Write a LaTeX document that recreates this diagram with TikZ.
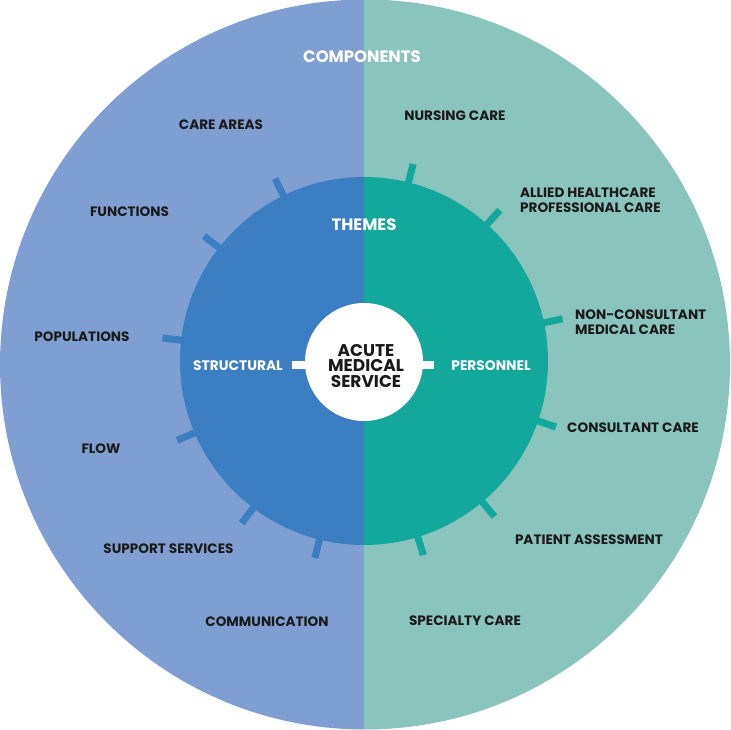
\documentclass[tikz,border=0pt]{standalone}
\usepackage{fontspec}
\setmainfont{Poppins}
\definecolor{outerL}{HTML}{7F9FD3}
\definecolor{outerR}{HTML}{89C5BD}
\definecolor{innerL}{HTML}{3B7EC1}
\definecolor{innerR}{HTML}{13A89C}
\definecolor{ink}{HTML}{1A1A1A}
\begin{document}
\begin{tikzpicture}[x=1pt,y=-1pt,
  lbl/.style={font=\fontsize{13.6}{15}\selectfont\bfseries, text=ink, inner sep=0pt},
  lbll/.style={lbl, anchor=west, align=left},
  wlbl/.style={font=\fontsize{13.8}{15}\selectfont\bfseries, text=white, inner sep=0pt},
  head/.style={font=\fontsize{16.5}{18}\selectfont\bfseries, text=white, inner sep=0pt},
  tickL/.style={draw=innerL, line width=7pt},
  tickR/.style={draw=innerR, line width=7pt},
  stub/.style={draw=white, line width=7.5pt}]
\useasboundingbox (0,0) rectangle (731,730);
\coordinate (co) at (365,364.5);
\coordinate (ci) at (364,361);
% outer ring
\begin{scope}
  \clip (co) circle (365);
  \fill[outerL] (0,0) rectangle (364,730);
  \fill[outerR] (364,0) rectangle (731,730);
\end{scope}
% ticks
\foreach \a in {116,142,173.5,203,233,256}
  \draw[tickL] ([shift={(-\a:175)}]ci) -- ([shift={(-\a:203)}]ci);
\foreach \a in {76,48,12,-19,-50,-73}
  \draw[tickR] ([shift={(-\a:175)}]ci) -- ([shift={(-\a:203)}]ci);
% inner ring
\begin{scope}
  \clip (ci) circle (184);
  \fill[innerL] (0,0) rectangle (364,730);
  \fill[innerR] (364,0) rectangle (731,730);
\end{scope}
% centre
\coordinate (cc) at (364,362);
\fill[white] (cc) circle (59);
\coordinate (sl1) at (292,365); \coordinate (sl2) at (310,365);
\coordinate (sr1) at (418,365); \coordinate (sr2) at (434,365);
\draw[stub] (sl1) -- (sl2);
\draw[stub] (sr1) -- (sr2);
\node[font=\fontsize{17}{15.5}\selectfont\bfseries, text=ink, align=center, inner sep=0pt] (acute) at (366,366) {ACUTE\\MEDICAL\\SERVICE};
% headings
\node[head] (components) at (362,57) {COMPONENTS};
\node[head] (themes) at (364,225) {THEMES};
\node[wlbl] (structural) at (238,366) {STRUCTURAL};
\node[wlbl] (personnel) at (491,366) {PERSONNEL};
% left labels
\node[lbl] (careareas) at (221,125) {CARE AREAS};
\node[lbl] (functions) at (129.5,212) {FUNCTIONS};
\node[lbl] (populations) at (82,337) {POPULATIONS};
\node[lbl] (flow) at (101,449) {FLOW};
\node[lbl] (support) at (168.5,549) {SUPPORT SERVICES};
\node[lbl] (communication) at (267,622) {COMMUNICATION};
% right labels
\node[lbl] (nursing) at (455,116) {NURSING CARE};
\node[lbll] (allied) at (520,200.5) {ALLIED HEALTHCARE\\PROFESSIONAL CARE};
\node[lbll] (nonconsult) at (575,322) {NON-CONSULTANT\\MEDICAL CARE};
\node[lbl] (consultant) at (633,428) {CONSULTANT CARE};
\node[lbl] (patient) at (589,540) {PATIENT ASSESSMENT};
\node[lbl] (specialty) at (465,621) {SPECIALTY CARE};
\end{tikzpicture}
\end{document}
